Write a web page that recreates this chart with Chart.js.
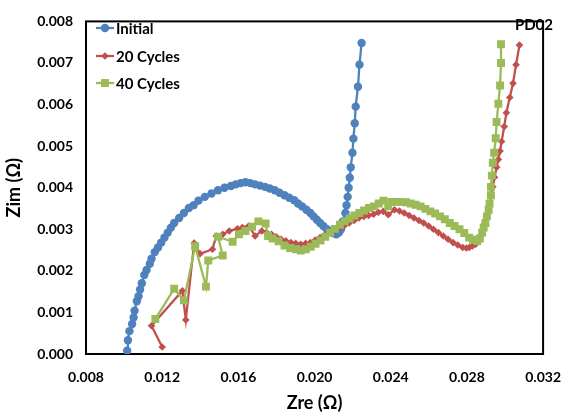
<!DOCTYPE html>
<html><head><meta charset="utf-8">
<script src="https://cdn.jsdelivr.net/npm/chart.js@4"></script>
<style>html,body{margin:0;padding:0;background:#fff}</style>
</head><body>
<canvas id="c" width="576" height="417"></canvas>
<script>
const seriesNames = ['Initial', '20 Cycles', '40 Cycles'];
const xTicks = [0.008, 0.012, 0.016, 0.020, 0.024, 0.028, 0.032];
const yTicks = [0.000, 0.001, 0.002, 0.003, 0.004, 0.005, 0.006, 0.007, 0.008];

const zreInitial = [0.01016,0.01020,0.01028,0.01042,0.01050,0.01055,0.01067,0.01076,0.01084,0.01093,0.01106,0.01118,0.01135,0.01144,0.01161,0.01178,0.01195,0.01212,0.01229,0.01246,0.01263,0.01289,0.01314,0.01340,0.01365,0.01391,0.01424,0.01459,0.01493,0.01527,0.01561,0.01586,0.01612,0.01637,0.01663,0.01688,0.01714,0.01740,0.01765,0.01791,0.01816,0.01842,0.01867,0.01893,0.01913,0.01935,0.01957,0.01978,0.01995,0.02012,0.02029,0.02046,0.02063,0.02080,0.02097,0.02114,0.02128,0.02139,0.02148,0.02162,0.02168,0.02174,0.02179,0.02185,0.02190,0.02199,0.02204,0.02211,0.02216,0.02228,0.02236,0.02247];
const zimInitial = [0.00008,0.00033,0.00055,0.00072,0.00088,0.00104,0.00127,0.00139,0.00155,0.00170,0.00190,0.00202,0.00217,0.00229,0.00245,0.00256,0.00268,0.00280,0.00292,0.00304,0.00315,0.00327,0.00339,0.00351,0.00358,0.00369,0.00378,0.00386,0.00394,0.00400,0.00404,0.00408,0.00411,0.00413,0.00411,0.00408,0.00405,0.00402,0.00398,0.00394,0.00388,0.00382,0.00376,0.00370,0.00362,0.00355,0.00347,0.00339,0.00331,0.00323,0.00315,0.00308,0.00301,0.00296,0.00291,0.00288,0.00292,0.00300,0.00319,0.00339,0.00358,0.00378,0.00400,0.00424,0.00449,0.00484,0.00518,0.00555,0.00595,0.00643,0.00696,0.00748];

const zre20 = [0.01200,0.01144,0.01306,0.01324,0.01368,0.01399,0.01464,0.01484,0.01518,0.01552,0.01595,0.01621,0.01654,0.01688,0.01723,0.01748,0.01774,0.01799,0.01825,0.01850,0.01876,0.01901,0.01927,0.01953,0.01978,0.02004,0.02029,0.02055,0.02080,0.02106,0.02131,0.02157,0.02182,0.02208,0.02233,0.02259,0.02284,0.02310,0.02335,0.02361,0.02387,0.02420,0.02446,0.02471,0.02497,0.02522,0.02548,0.02573,0.02599,0.02624,0.02650,0.02676,0.02701,0.02727,0.02752,0.02778,0.02797,0.02812,0.02829,0.02846,0.02863,0.02872,0.02880,0.02888,0.02905,0.02919,0.02928,0.02936,0.02945,0.02956,0.02965,0.02974,0.02982,0.02996,0.03007,0.03025,0.03042,0.03058,0.03076];
const zim20 = [0.00017,0.00068,0.00152,0.00082,0.00267,0.00241,0.00252,0.00284,0.00288,0.00296,0.00301,0.00304,0.00308,0.00284,0.00296,0.00292,0.00288,0.00282,0.00276,0.00272,0.00268,0.00266,0.00264,0.00266,0.00268,0.00274,0.00280,0.00286,0.00292,0.00298,0.00304,0.00309,0.00315,0.00321,0.00327,0.00331,0.00333,0.00336,0.00341,0.00343,0.00335,0.00347,0.00344,0.00339,0.00333,0.00327,0.00321,0.00315,0.00308,0.00300,0.00292,0.00284,0.00276,0.00268,0.00262,0.00256,0.00255,0.00256,0.00260,0.00264,0.00272,0.00284,0.00296,0.00311,0.00335,0.00358,0.00382,0.00402,0.00425,0.00449,0.00468,0.00488,0.00511,0.00547,0.00580,0.00617,0.00651,0.00696,0.00743];

const zre40 = [0.01164,0.01263,0.01314,0.01373,0.01430,0.01442,0.01518,0.01493,0.01570,0.01603,0.01637,0.01672,0.01705,0.01743,0.01756,0.01780,0.01811,0.01842,0.01872,0.01903,0.01928,0.01954,0.01980,0.02005,0.02031,0.02056,0.02082,0.02107,0.02133,0.02158,0.02184,0.02209,0.02235,0.02260,0.02286,0.02311,0.02337,0.02362,0.02387,0.02403,0.02429,0.02454,0.02480,0.02505,0.02531,0.02557,0.02582,0.02608,0.02633,0.02659,0.02684,0.02710,0.02735,0.02761,0.02786,0.02812,0.02832,0.02854,0.02868,0.02880,0.02888,0.02897,0.02905,0.02914,0.02919,0.02926,0.02926,0.02931,0.02936,0.02943,0.02951,0.02956,0.02965,0.02974,0.02979,0.02979];
const zim40 = [0.00084,0.00157,0.00129,0.00259,0.00162,0.00225,0.00237,0.00282,0.00270,0.00288,0.00296,0.00306,0.00319,0.00314,0.00284,0.00278,0.00271,0.00261,0.00255,0.00252,0.00249,0.00252,0.00258,0.00265,0.00273,0.00282,0.00292,0.00301,0.00311,0.00319,0.00326,0.00333,0.00339,0.00345,0.00351,0.00355,0.00362,0.00369,0.00355,0.00366,0.00366,0.00366,0.00365,0.00362,0.00359,0.00355,0.00349,0.00343,0.00338,0.00331,0.00324,0.00315,0.00308,0.00300,0.00291,0.00280,0.00275,0.00272,0.00278,0.00292,0.00304,0.00315,0.00331,0.00347,0.00362,0.00382,0.00402,0.00429,0.00460,0.00484,0.00519,0.00558,0.00602,0.00646,0.00700,0.00745];

const pts = (xs, ys) => xs.map((x, i) => ({x: x, y: ys[i]}));
const FONT = 'Lato, "Open Sans", sans-serif';

const styles = [
  {color: '#4F81BD', pointStyle: 'circle', radius: 4.2, order: 3},
  {color: '#C0504D', pointStyle: 'rectRot', radius: 3.8, order: 2},
  {color: '#9BBB59', pointStyle: 'rect', radius: 5.6, order: 1}
];
const dataArrays = [[zreInitial, zimInitial], [zre20, zim20], [zre40, zim40]];

const datasets = seriesNames.map((name, i) => ({
  label: name,
  data: pts(dataArrays[i][0], dataArrays[i][1]),
  showLine: true,
  borderColor: styles[i].color,
  backgroundColor: styles[i].color,
  borderWidth: 2.3,
  pointStyle: styles[i].pointStyle,
  pointRadius: styles[i].radius,
  pointBorderWidth: 0,
  pointBackgroundColor: styles[i].color,
  order: styles[i].order,
  tension: 0
}));

const framePlugin = {
  id: 'frame',
  beforeDatasetsDraw(chart) {
    const a = chart.chartArea, c = chart.ctx;
    c.save();
    c.strokeStyle = '#000';
    c.lineWidth = 2;
    c.strokeRect(a.left, a.top, a.right - a.left, a.bottom - a.top);
    c.restore();
  },
  afterDraw(chart) {
    const c = chart.ctx;
    c.save();
    const ys = [28, 56, 83];
    chart.data.datasets.forEach((ds, i) => {
      const y = ys[i];
      c.strokeStyle = ds.borderColor;
      c.lineWidth = 2.3;
      c.beginPath(); c.moveTo(96, y); c.lineTo(114, y); c.stroke();
      c.fillStyle = ds.borderColor;
      Chart.helpers.drawPoint(c, {pointStyle: ds.pointStyle, radius: ds.pointRadius, rotation: 0, borderWidth: 0}, 105, y);
      c.fillStyle = '#000';
      c.font = 'bold 15px ' + FONT;
      c.textBaseline = 'middle';
      c.textAlign = 'left';
      c.fillText(ds.label, 116, y + 1);
    });
    c.font = 'bold 15px ' + FONT;
    c.textAlign = 'right';
    c.textBaseline = 'middle';
    c.fillStyle = '#000';
    c.fillText('PD02', 553, 25);
    c.restore();
  }
};

new Chart(document.getElementById('c'), {
  type: 'scatter',
  data: {datasets: datasets},
  options: {
    responsive: false,
    animation: false,
    layout: {padding: {top: 14, right: 20, left: 0, bottom: 0}},
    plugins: {legend: {display: false}, tooltip: {enabled: false}},
    scales: {
      x: {
        type: 'linear', min: xTicks[0], max: xTicks[xTicks.length - 1],
        afterBuildTicks: s => { s.ticks = xTicks.map(v => ({value: v})); },
        afterFit: s => { s.height = 63; },
        ticks: {autoSkip: false, maxRotation: 0, padding: 15, color: '#000',
          font: {family: FONT, weight: 'bold', size: 14},
          callback: v => v.toFixed(3)},
        grid: {display: false, drawTicks: false},
        border: {display: false},
        title: {display: true, text: 'Zre (Ω)', color: '#000',
          font: {family: FONT, weight: 'bold', size: 18}, padding: {top: 0, bottom: 3}}
      },
      y: {
        type: 'linear', min: yTicks[0], max: yTicks[yTicks.length - 1],
        afterBuildTicks: s => { s.ticks = yTicks.map(v => ({value: v})); },
        afterFit: s => { s.width = 86; },
        ticks: {autoSkip: false, padding: 13, color: '#000',
          font: {family: FONT, weight: 'bold', size: 14},
          callback: v => v.toFixed(3)},
        grid: {display: false, drawTicks: false},
        border: {display: false},
        title: {display: true, text: 'Zim (Ω)', color: '#000',
          font: {family: FONT, weight: 'bold', size: 18}, padding: {top: 3, bottom: 0}}
      }
    }
  },
  plugins: [framePlugin]
});
</script>
</body></html>
